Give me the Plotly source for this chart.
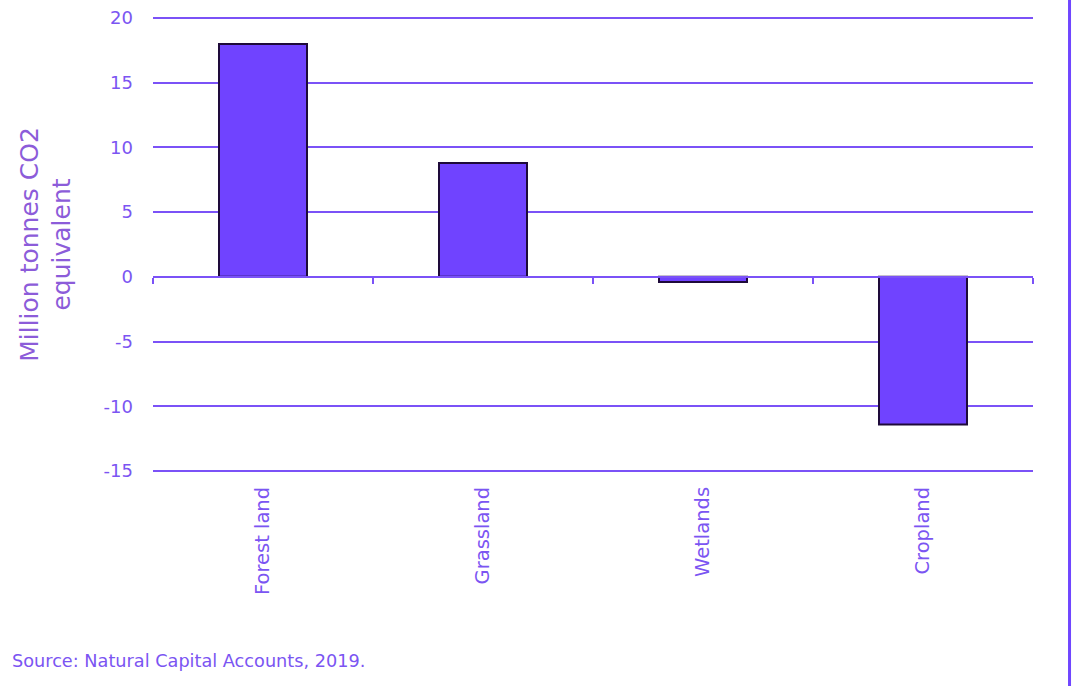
import plotly.graph_objects as go

categories = ["Forest land", "Grassland", "Wetlands", "Cropland"]
values = [18.0, 8.8, -0.4, -11.4]
y_ticks = [-15, -10, -5, 0, 5, 10, 15, 20]
y_tick_text = ["-15", "-10", "-5", "0", "5", "10", "15", "20"]
y_range = [-15.08, 20.08]
source_text = "Source: Natural Capital Accounts, 2019."
y_title = "Million tonnes CO2<br>equivalent"

grid_col = "#7B52F7"
text_col = "#7B55F2"
font_family = "'DejaVu Sans', sans-serif"

fig = go.Figure()
fig.add_trace(go.Bar(
    x=categories, y=values,
    marker=dict(color="#7043FF", line=dict(color="#1E0A3A", width=2)),
    width=0.4, showlegend=False, hoverinfo="x+y",
))
# invisible trace to carry the zero-line axis with boundary ticks
fig.add_trace(go.Scatter(
    x=categories, y=[0] * len(categories), xaxis="x2", mode="markers",
    marker=dict(opacity=0), showlegend=False, hoverinfo="skip",
))

zero_pos = (0 - y_range[0]) / (y_range[1] - y_range[0])

fig.update_layout(
    width=1072, height=686, autosize=False,
    margin=dict(l=153, r=39, t=17, b=214, autoexpand=False),
    paper_bgcolor="white", plot_bgcolor="white",
    font=dict(family=font_family, color=text_col),
    xaxis=dict(
        type="category", showgrid=False, showline=False, ticks="",
        tickangle=-90, tickfont=dict(size=19.5, color=text_col),
        ticklabelstandoff=10, range=[-0.5, 3.5], automargin=False,
    ),
    xaxis2=dict(
        type="category", overlaying="x", anchor="free", position=zero_pos,
        matches="x", showticklabels=False, showgrid=False,
        showline=True, linecolor=grid_col, linewidth=2,
        ticks="outside", tickson="boundaries", ticklen=6, tickwidth=2,
        tickcolor=grid_col, automargin=False,
    ),
    yaxis=dict(
        range=y_range, tickvals=y_ticks, ticktext=y_tick_text,
        showgrid=True, gridcolor=grid_col, automargin=False,
        gridwidth=2, zeroline=True, zerolinecolor=grid_col, zerolinewidth=2,
        showline=False, ticks="", ticklabelstandoff=19,
        tickfont=dict(size=18, color=text_col),
        title=dict(text=y_title, font=dict(size=25, color="#8C5CD9"), standoff=25),
    ),
    shapes=[dict(type="line", xref="paper", yref="paper",
                 x0=1.0415, x1=1.0415, y0=-0.5, y1=1.1,
                 line=dict(color="#7046FF", width=3))],
    annotations=[dict(text=source_text, xref="paper", yref="paper",
                      x=-0.162, y=-0.4155, xanchor="left", yanchor="middle",
                      showarrow=False, font=dict(size=17.7, color=text_col))],
)

fig.write_html("out.html")
